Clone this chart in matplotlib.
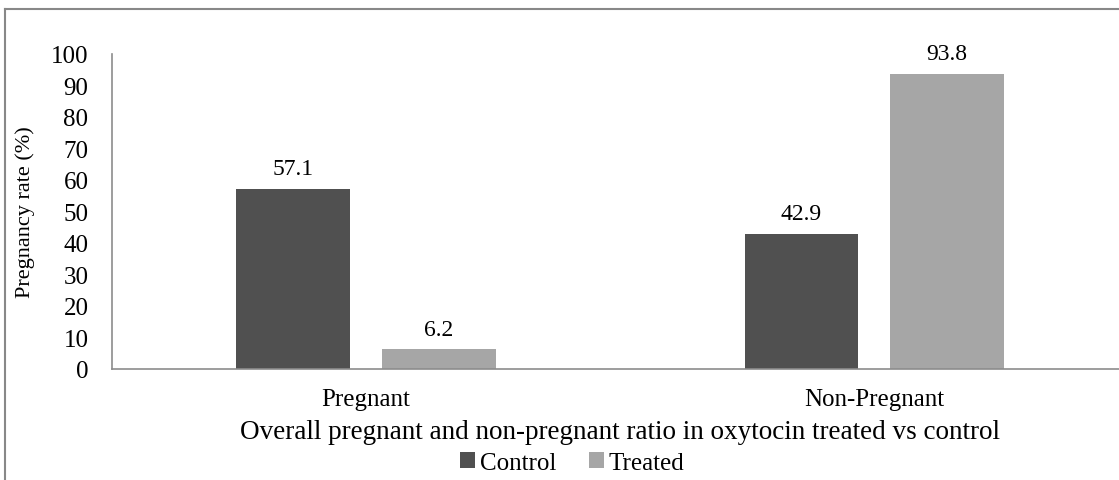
import numpy as np
import matplotlib.pyplot as plt
from matplotlib.lines import Line2D

# data
groups = ['Pregnant', 'Non-Pregnant']
control = [57.1, 42.9]
treated = [6.2, 93.8]
series_names = ['Control', 'Treated']

plt.rcParams['font.family'] = ['Liberation Serif', 'DejaVu Serif']

fig = plt.figure(figsize=(11.19, 4.81), dpi=100)
ax = fig.add_axes([0.1001, 0.2308, 0.908, 0.6549])

x = np.arange(len(groups))
w = 0.224
off = 0.143
b1 = ax.bar(x - off, control, w, color='#505050', label=series_names[0])
b2 = ax.bar(x + off, treated, w, color='#a6a6a6', label=series_names[1])

for bars in (b1, b2):
    for r in bars:
        ax.annotate(f'{r.get_height():.1f}', (r.get_x() + r.get_width() / 2, r.get_height()),
                    xytext=(0, 7), textcoords='offset points', ha='center', va='bottom', fontsize=17)

ax.set_xlim(-0.5, 1.5)
ax.set_ylim(0, 100)
ax.set_yticks(range(0, 101, 10))
ax.set_xticks(x)
ax.set_xticklabels(groups)
ax.tick_params(axis='y', length=0, pad=17, labelsize=18)
ax.tick_params(axis='x', length=0, pad=14, labelsize=18)
for s in ['top', 'right']:
    ax.spines[s].set_visible(False)
for s in ['left', 'bottom']:
    ax.spines[s].set_color('#8c8c8c')
    ax.spines[s].set_linewidth(1.2)

ax.set_ylabel('Pregnancy rate (%)', fontsize=16)
ax.yaxis.set_label_coords(-0.076, 0.5)
ax.set_xlabel('Overall pregnant and non-pregnant ratio in oxytocin treated vs control', fontsize=19.5, labelpad=6)

ax.legend(loc='center', bbox_to_anchor=(0.453, -0.297), ncol=2, frameon=False, fontsize=18,
          handlelength=0.6, handleheight=0.6, handletextpad=0.2, columnspacing=1.3, borderpad=0)

# outer frame lines (top and left)
fig.add_artist(Line2D([0.0045, 1.0], [0.979, 0.979], color='#888888', lw=1.5))
fig.add_artist(Line2D([0.0045, 0.0045], [0.0, 0.979], color='#888888', lw=1.5))

fig.savefig('out.png', dpi=100)
